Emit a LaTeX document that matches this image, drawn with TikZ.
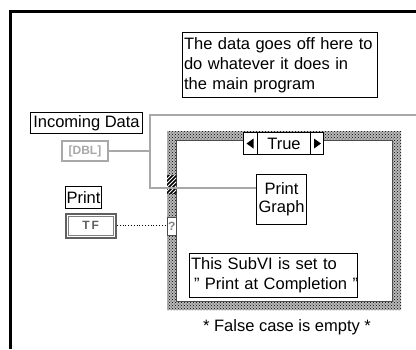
\documentclass[tikz,border=0pt]{standalone}
\usepackage{fontspec}
\setmainfont{Liberation Sans}
\usetikzlibrary{patterns}
\definecolor{wiregray}{HTML}{A8A8A8}
\definecolor{darkg}{HTML}{606060}
\tikzset{
  txt/.style={font=\fontsize{16.5}{20}\selectfont},
  lbl/.style={draw, line width=1pt, inner sep=0pt, txt, anchor=north west},
  wire/.style={draw=wiregray, line width=2.5pt},
  dotwire/.style={draw=black, dotted, line width=0.8pt},
}
\begin{document}
\begin{tikzpicture}[x=1pt,y=-1pt]
\useasboundingbox (0,0) rectangle (416,349);
\fill[white] (0,0) rectangle (416,349);
% outer frame
\draw[line width=3pt] (10.7,349) -- (10.7,11.3) -- (416,11.3);

% comment top
\node[lbl, minimum height=65, text width=192, inner xsep=1.5, align=left] (c1) at (182,32)
  {\mbox{The data goes off here to}\\\mbox{do whatever it does in}\\\mbox{the main program}};

% labels
\node[lbl, minimum width=112, minimum height=21] (inc) at (30,112) {Incoming Data};
\node[lbl, minimum width=36, minimum height=22] (plbl) at (65,186) {Print};

% DBL terminal
\node[draw=wiregray, line width=2pt, anchor=north west, minimum width=46, minimum height=20, inner sep=0,
  text=wiregray, font=\fontsize{12}{12}\selectfont\bfseries] (dbl) at (61,140) {[DBL]};

% TF terminal
\node[draw=darkg, line width=2.5pt, anchor=north west, minimum width=50, minimum height=24, inner sep=0,
  font=\fontsize{12}{12}\selectfont\bfseries, text=darkg] (tf) at (64.5,212.5) {T\,F};
\draw[gray, line width=0.8pt] ([shift={(3.5,-3.5)}]tf.south west) rectangle ([shift={(-3.5,3.5)}]tf.north east);

% case structure frame
\fill[gray!55, even odd rule] (167,131) rectangle (401,310) (176,140) rectangle (392,301);
\fill[pattern=crosshatch dots, pattern color=black, even odd rule] (167,131) rectangle (401,310) (176,140) rectangle (392,301);
\draw[black!70, line width=0.6pt] (176,140) rectangle (392,301);

% tunnel
\node[anchor=north west, minimum width=9, minimum height=18, inner sep=0, fill=white] (tun) at (167,175) {};
\begin{scope}
  \clip (tun.north west) rectangle (tun.south east);
  \foreach \k in {-12,-8,...,28} {
    \draw[line width=1.6pt] (165,175+\k) -- (178,162+\k);
  }
\end{scope}

% selector terminal
\node[draw=black!70, fill=white, line width=0.8pt, anchor=north west, minimum width=9, minimum height=18, inner sep=0,
  text=gray, font=\fontsize{12}{12}\selectfont\bfseries] (qbox) at (167,217) {?};

% case selector
\node[lbl, fill=white, minimum width=14, minimum height=22] (selL) at (243,132) {};
\node[lbl, fill=white, minimum width=53, minimum height=22] (selT) at (257,132) {True};
\node[lbl, fill=white, minimum width=13, minimum height=22] (selR) at (310,132) {};
\fill ([xshift=3]selL.center) -- ++(0,-5) -- ++(-7,5) -- ++(7,5) -- cycle;
\fill ([xshift=-3]selR.center) -- ++(0,-5) -- ++(7,5) -- ++(-7,5) -- cycle;

% Print Graph subVI
\node[lbl, minimum width=50, minimum height=50, align=center, font=\fontsize{16.5}{18}\selectfont] (pg) at (256,174) {Print\\Graph};

% comment inside
\node[lbl, minimum height=44, text width=165, inner xsep=1.5, align=left] (c2) at (189,253)
  {\mbox{This SubVI is set to}\\\mbox{\hspace{3pt}" Print at Completion "}};

% false case text
\node[txt] (fc) at (287,327) {* False case is empty *};

% wires
\coordinate (j1) at (150,115);
\coordinate (j3) at (150,188);
\coordinate (topend) at (416,115);
\draw[wire] (dbl.east) -- (dbl.east -| j1);
\draw[wire] (topend) -- (j1) -- (j3) -- (j3 -| pg.west);
\draw[dotwire] (tf.east) -- (tf.east -| qbox.west);
\end{tikzpicture}
\end{document}
